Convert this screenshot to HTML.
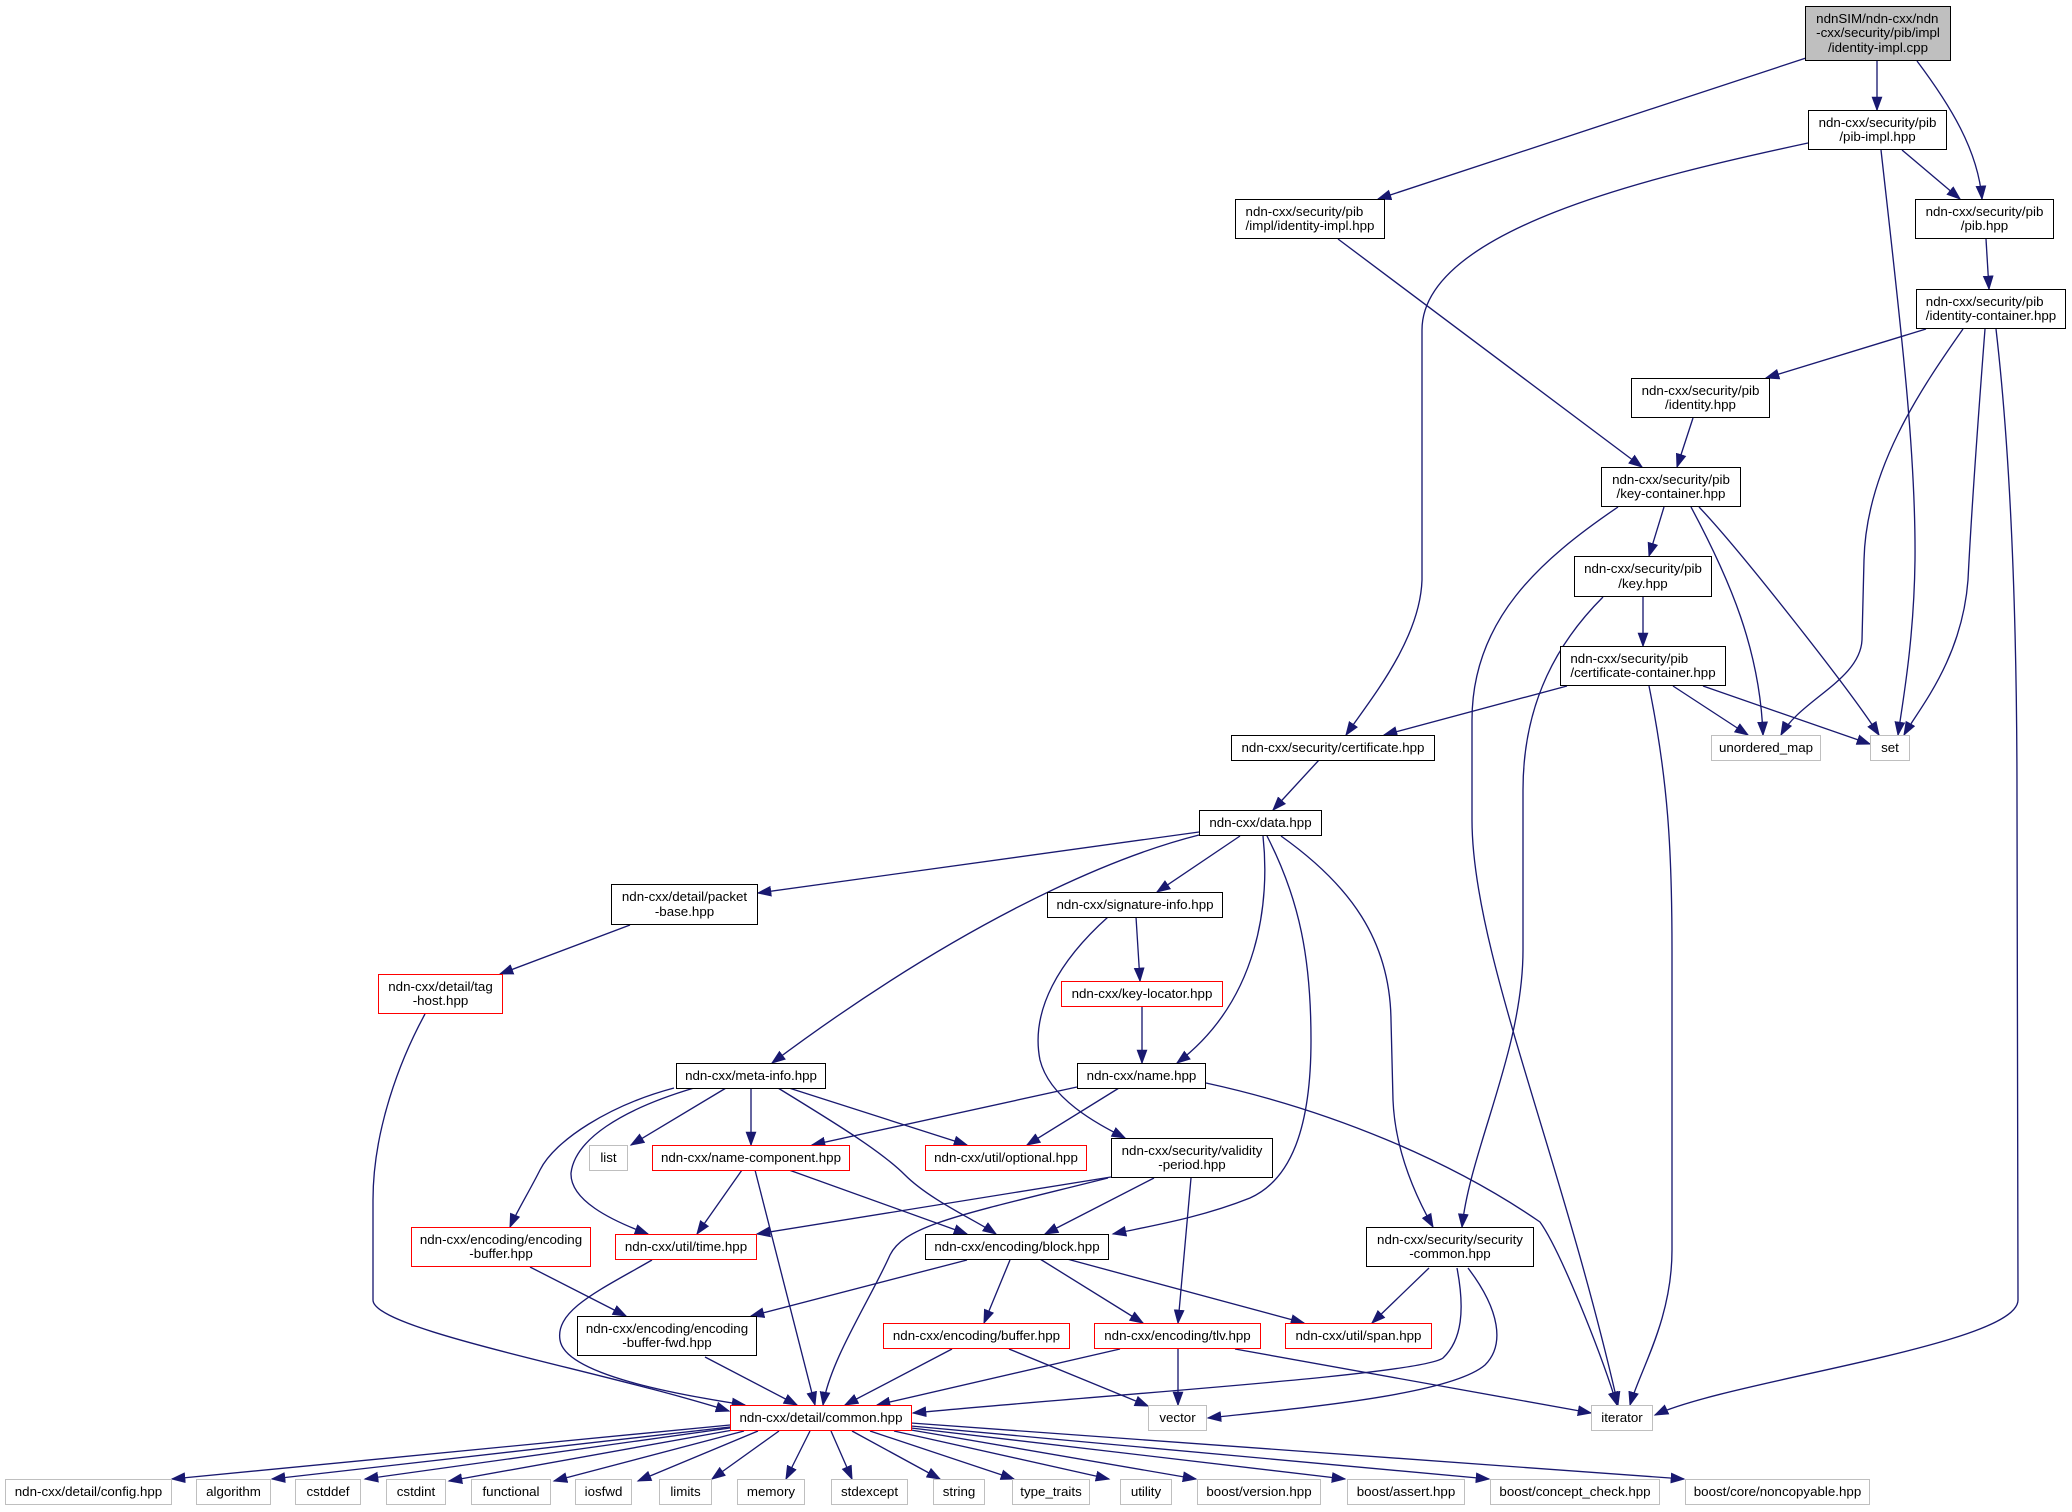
<!DOCTYPE html>
<html><head><meta charset="utf-8">
<style>
html,body{margin:0;padding:0;background:#fff}
body{width:2072px;height:1512px;position:relative;overflow:hidden}
svg{position:absolute;left:0;top:0}
.n{position:absolute;box-sizing:border-box;border:1.33px solid #000;background:#fff;display:flex;align-items:center;justify-content:center;font-family:"Liberation Sans",Arial,sans-serif;font-size:13.33px;line-height:14.5px;color:#000;white-space:nowrap}
.g{border-color:#bfbfbf}
.r{border-color:#ff0000}
.t{display:inline-block;text-align:left}
.t .c{text-align:center}
</style></head><body>
<svg width="2072" height="1512" viewBox="0 0 2072 1512">
<defs>
<marker id="a" markerUnits="userSpaceOnUse" markerWidth="15" markerHeight="11" refX="13.3" refY="5.5" orient="auto" viewBox="0 0 15 11">
<path d="M0.5,0.8 L13.3,5.5 L0.5,10.2 z" fill="#191970" stroke="#191970" stroke-width="1"/>
</marker>
</defs>
<g fill="none" stroke="#191970" stroke-width="1.33" marker-end="url(#a)">
<path d="M1806,58 L1378,199"/>
<path d="M1877,61 L1877,110"/>
<path d="M1917,61 C1950,105 1978,150 1982,199"/>
<path d="M1902,150 L1960,199"/>
<path d="M1808,143 C1650,177 1422,230 1422,330 L1422,580 C1420,640 1370,700 1346,735"/>
<path d="M1881,150 C1900,320 1916,450 1915,560 C1914,640 1903,700 1898,735"/>
<path d="M1338,239 L1642,467"/>
<path d="M1986,239 L1989,289"/>
<path d="M1926,329 L1766,378"/>
<path d="M1963,329 C1920,390 1866,470 1864,560 L1862,640 C1860,680 1800,700 1781,735"/>
<path d="M1985,329 C1978,420 1972,500 1968,580 C1962,660 1918,710 1904,735"/>
<path d="M1996,329 C2010,450 2017,600 2017,800 L2018,1300 C2018,1345 1730,1380 1655,1415"/>
<path d="M1693,418 L1677,467"/>
<path d="M1664,507 L1649,556"/>
<path d="M1691,507 C1730,580 1760,650 1763,735"/>
<path d="M1699,507 C1740,550 1850,690 1879,735"/>
<path d="M1618,507 C1540,560 1472,620 1472,720 L1472,820 C1472,950 1560,1150 1618,1405"/>
<path d="M1603,597 C1560,640 1523,700 1523,790 L1523,950 C1523,1050 1470,1150 1462,1227"/>
<path d="M1643,597 L1643,646"/>
<path d="M1567,686 L1384,735"/>
<path d="M1673,686 L1748,735"/>
<path d="M1703,686 L1870,744"/>
<path d="M1649,686 C1668,780 1672,850 1672,950 L1672,1250 C1672,1320 1640,1370 1630,1405"/>
<path d="M1319,760 L1273,810"/>
<path d="M1199,832 L758,893"/>
<path d="M1240,836 L1157,892"/>
<path d="M1199,835 C1100,860 950,930 772,1063"/>
<path d="M1263,836 C1270,900 1260,1000 1177,1063"/>
<path d="M1267,836 C1300,900 1311,960 1311,1040 C1311,1130 1290,1180 1250,1198 C1200,1218 1150,1226 1113,1234"/>
<path d="M1281,836 C1350,885 1390,940 1391,1020 L1393,1100 C1395,1150 1415,1195 1433,1227"/>
<path d="M1136,917 L1140,981"/>
<path d="M1108,917 C1060,960 1030,1010 1040,1060 C1050,1100 1100,1125 1125,1138"/>
<path d="M1142,1007 L1142,1063"/>
<path d="M630,925 L500,974"/>
<path d="M425,1014 C400,1060 373,1130 373,1200 L373,1300 C373,1330 600,1370 729,1411"/>
<path d="M726,1088 L631,1145"/>
<path d="M751,1088 L751,1145"/>
<path d="M789,1088 L967,1145"/>
<path d="M778,1088 C830,1120 880,1150 905,1175 C930,1200 975,1220 996,1234"/>
<path d="M674,1088 C610,1105 555,1140 540,1170 C530,1190 515,1215 510,1227"/>
<path d="M694,1088 C620,1110 575,1140 571,1173 C570,1200 610,1220 648,1234"/>
<path d="M1077,1087 L812,1145"/>
<path d="M1119,1088 L1027,1145"/>
<path d="M1206,1083 C1330,1110 1450,1160 1540,1222 C1560,1250 1600,1350 1617,1405"/>
<path d="M742,1170 L697,1234"/>
<path d="M755,1170 L815,1405"/>
<path d="M789,1170 L967,1234"/>
<path d="M1111,1177 L757,1234"/>
<path d="M1154,1178 L1045,1234"/>
<path d="M1108,1178 C960,1215 905,1225 890,1255 C870,1300 830,1360 823,1405"/>
<path d="M1191,1178 L1178,1323"/>
<path d="M652,1260 C600,1290 555,1310 560,1340 C565,1375 680,1395 745,1405"/>
<path d="M967,1260 L751,1316"/>
<path d="M1010,1260 L984,1323"/>
<path d="M1040,1259 L1143,1323"/>
<path d="M1067,1259 L1304,1323"/>
<path d="M530,1267 L626,1316"/>
<path d="M705,1357 L797,1405"/>
<path d="M952,1349 L845,1405"/>
<path d="M1009,1349 L1148,1406"/>
<path d="M1120,1349 L877,1405"/>
<path d="M1178,1349 L1178,1405"/>
<path d="M1235,1349 L1591,1413"/>
<path d="M1429,1268 L1372,1323"/>
<path d="M1457,1268 C1465,1310 1462,1340 1443,1358 C1420,1375 1100,1395 913,1413"/>
<path d="M1468,1268 C1500,1310 1505,1345 1485,1365 C1450,1395 1300,1408 1208,1418"/>
<path d="M730,1425 L172,1479"/>
<path d="M730,1427 L272,1479"/>
<path d="M730,1428 L365,1479"/>
<path d="M733,1430 L449,1481"/>
<path d="M744,1431 L554,1481"/>
<path d="M758,1431 L638,1481"/>
<path d="M779,1431 L712,1479"/>
<path d="M810,1431 L786,1479"/>
<path d="M831,1431 L852,1479"/>
<path d="M852,1431 L940,1479"/>
<path d="M870,1431 L1014,1479"/>
<path d="M894,1431 L1109,1479"/>
<path d="M911,1430 L1196,1479"/>
<path d="M911,1428 L1345,1479"/>
<path d="M911,1426 L1489,1479"/>
<path d="M911,1423 L1684,1479"/>
</g>
</svg>

<div class="n" style="left:1805px;top:6px;width:146px;height:55px;background:#bfbfbf"><div class="t"><div>ndnSIM/ndn-cxx/ndn</div><div>-cxx/security/pib/impl</div><div class="c">/identity-impl.cpp</div></div></div>
<div class="n" style="left:1808px;top:110px;width:139px;height:40px"><div class="t"><div>ndn-cxx/security/pib</div><div class="c">/pib-impl.hpp</div></div></div>
<div class="n" style="left:1235px;top:199px;width:150px;height:40px"><div class="t"><div>ndn-cxx/security/pib</div><div class="c">/impl/identity-impl.hpp</div></div></div>
<div class="n" style="left:1915px;top:199px;width:139px;height:40px"><div class="t"><div>ndn-cxx/security/pib</div><div class="c">/pib.hpp</div></div></div>
<div class="n" style="left:1916px;top:289px;width:150px;height:40px"><div class="t"><div>ndn-cxx/security/pib</div><div class="c">/identity-container.hpp</div></div></div>
<div class="n" style="left:1631px;top:378px;width:139px;height:40px"><div class="t"><div>ndn-cxx/security/pib</div><div class="c">/identity.hpp</div></div></div>
<div class="n" style="left:1601px;top:467px;width:140px;height:40px"><div class="t"><div>ndn-cxx/security/pib</div><div class="c">/key-container.hpp</div></div></div>
<div class="n" style="left:1574px;top:556px;width:138px;height:41px"><div class="t"><div>ndn-cxx/security/pib</div><div class="c">/key.hpp</div></div></div>
<div class="n" style="left:1560px;top:646px;width:166px;height:40px"><div class="t"><div>ndn-cxx/security/pib</div><div class="c">/certificate-container.hpp</div></div></div>
<div class="n" style="left:1231px;top:735px;width:204px;height:26px">ndn-cxx/security/certificate.hpp</div>
<div class="n g" style="left:1711px;top:735px;width:110px;height:26px">unordered_map</div>
<div class="n g" style="left:1870px;top:735px;width:40px;height:26px">set</div>
<div class="n" style="left:1199px;top:810px;width:123px;height:26px">ndn-cxx/data.hpp</div>
<div class="n" style="left:611px;top:884px;width:147px;height:41px"><div class="t"><div>ndn-cxx/detail/packet</div><div class="c">-base.hpp</div></div></div>
<div class="n" style="left:1047px;top:892px;width:176px;height:26px">ndn-cxx/signature-info.hpp</div>
<div class="n r" style="left:378px;top:974px;width:125px;height:40px"><div class="t"><div>ndn-cxx/detail/tag</div><div class="c">-host.hpp</div></div></div>
<div class="n r" style="left:1061px;top:981px;width:162px;height:26px">ndn-cxx/key-locator.hpp</div>
<div class="n" style="left:676px;top:1063px;width:150px;height:26px">ndn-cxx/meta-info.hpp</div>
<div class="n" style="left:1077px;top:1063px;width:129px;height:26px">ndn-cxx/name.hpp</div>
<div class="n g" style="left:589px;top:1145px;width:39px;height:26px">list</div>
<div class="n r" style="left:652px;top:1145px;width:198px;height:26px">ndn-cxx/name-component.hpp</div>
<div class="n r" style="left:925px;top:1145px;width:162px;height:26px">ndn-cxx/util/optional.hpp</div>
<div class="n" style="left:1111px;top:1138px;width:162px;height:40px"><div class="t"><div>ndn-cxx/security/validity</div><div class="c">-period.hpp</div></div></div>
<div class="n r" style="left:411px;top:1227px;width:180px;height:40px"><div class="t"><div>ndn-cxx/encoding/encoding</div><div class="c">-buffer.hpp</div></div></div>
<div class="n r" style="left:615px;top:1234px;width:142px;height:26px">ndn-cxx/util/time.hpp</div>
<div class="n" style="left:925px;top:1234px;width:184px;height:26px">ndn-cxx/encoding/block.hpp</div>
<div class="n" style="left:1366px;top:1227px;width:168px;height:40px"><div class="t"><div>ndn-cxx/security/security</div><div class="c">-common.hpp</div></div></div>
<div class="n" style="left:577px;top:1316px;width:180px;height:40px"><div class="t"><div>ndn-cxx/encoding/encoding</div><div class="c">-buffer-fwd.hpp</div></div></div>
<div class="n r" style="left:883px;top:1323px;width:187px;height:26px">ndn-cxx/encoding/buffer.hpp</div>
<div class="n r" style="left:1094px;top:1323px;width:167px;height:26px">ndn-cxx/encoding/tlv.hpp</div>
<div class="n r" style="left:1285px;top:1323px;width:147px;height:26px">ndn-cxx/util/span.hpp</div>
<div class="n r" style="left:730px;top:1405px;width:182px;height:26px">ndn-cxx/detail/common.hpp</div>
<div class="n g" style="left:1148px;top:1405px;width:59px;height:26px">vector</div>
<div class="n g" style="left:1591px;top:1405px;width:62px;height:26px">iterator</div>

<div class="n g" style="left:5px;top:1479px;width:167px;height:26px">ndn-cxx/detail/config.hpp</div>
<div class="n g" style="left:196px;top:1479px;width:75px;height:26px">algorithm</div>
<div class="n g" style="left:295px;top:1479px;width:66px;height:26px">cstddef</div>
<div class="n g" style="left:386px;top:1479px;width:60px;height:26px">cstdint</div>
<div class="n g" style="left:471px;top:1479px;width:80px;height:26px">functional</div>
<div class="n g" style="left:575px;top:1479px;width:57px;height:26px">iosfwd</div>
<div class="n g" style="left:659px;top:1479px;width:53px;height:26px">limits</div>
<div class="n g" style="left:737px;top:1479px;width:68px;height:26px">memory</div>
<div class="n g" style="left:831px;top:1479px;width:77px;height:26px">stdexcept</div>
<div class="n g" style="left:933px;top:1479px;width:52px;height:26px">string</div>
<div class="n g" style="left:1012px;top:1479px;width:78px;height:26px">type_traits</div>
<div class="n g" style="left:1120px;top:1479px;width:52px;height:26px">utility</div>
<div class="n g" style="left:1197px;top:1479px;width:124px;height:26px">boost/version.hpp</div>
<div class="n g" style="left:1347px;top:1479px;width:118px;height:26px">boost/assert.hpp</div>
<div class="n g" style="left:1490px;top:1479px;width:170px;height:26px">boost/concept_check.hpp</div>
<div class="n g" style="left:1685px;top:1479px;width:185px;height:26px">boost/core/noncopyable.hpp</div>
</body></html>
